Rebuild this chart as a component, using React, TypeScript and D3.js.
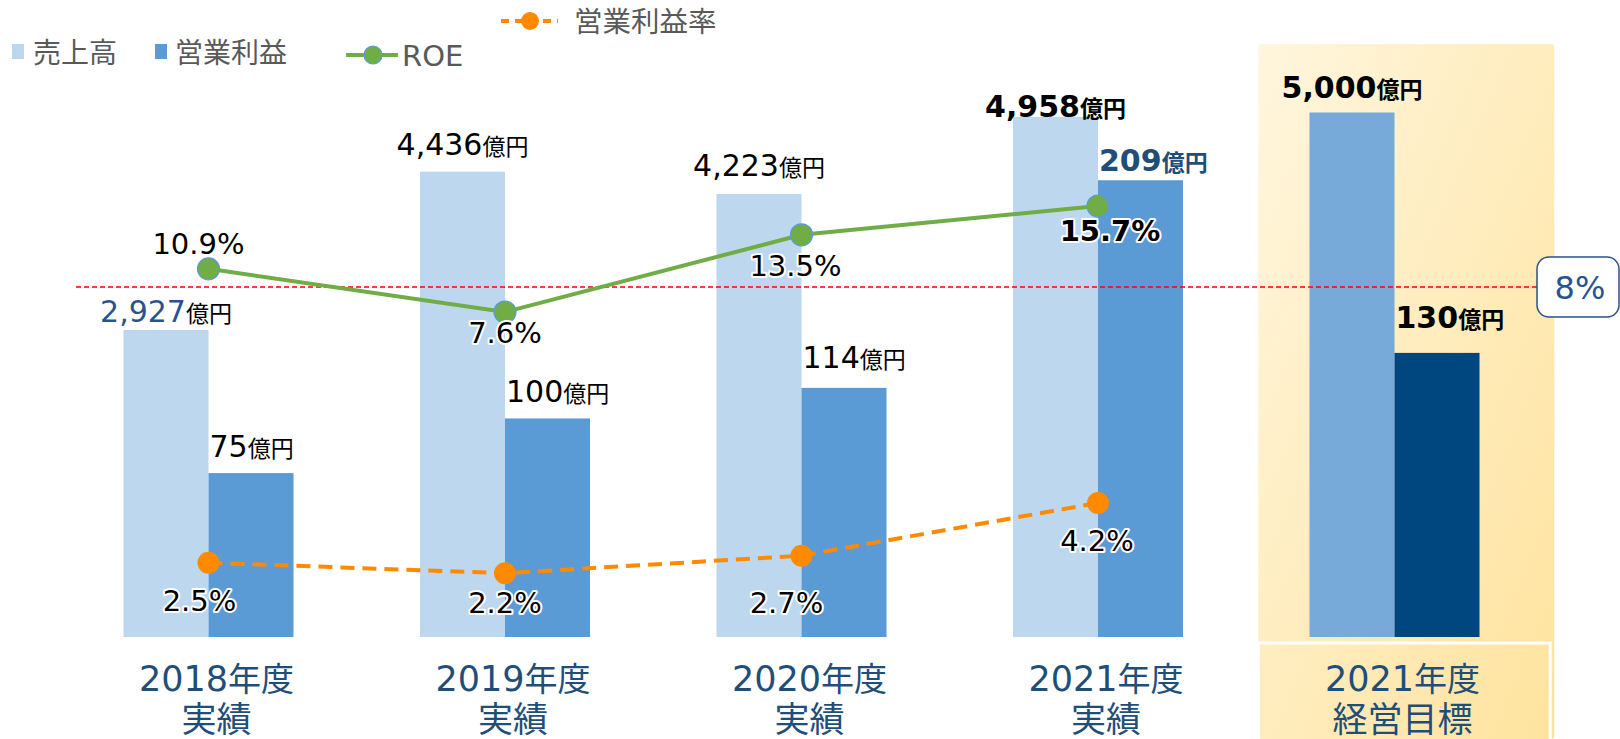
import React from 'react';
import * as d3 from 'd3';

// categories (x axis)
const years = ['2018', '2019', '2020', '2021', 'target'];
const yearLabels = ['2018', '2019', '2020', '2021', '2021'];
const yearSubLabels = ['実績', '実績', '実績', '実績', '経営目標'];

// bar series (億円)
const sales = [2927, 4436, 4223, 4958, 5000];
const opProfit = [75, 100, 114, 209, 130];

// line series (%)
const roe = [10.9, 7.6, 13.5, 15.7];
const opMargin = [2.5, 2.2, 2.7, 4.2];

const roeTarget = 8;

// label nudges (layout only)
const salesLabelDy = [-8, -17, -18, 0, -15];
const opLabelDy = [-16, -16, -20, -9, -25];
const roeLabelOffset: [number, number][] = [[-10, -15], [0, 31], [-6, 41], [12, 35]];
const marginLabelOffset: [number, number][] = [[-9, 48], [0, 40], [-15, 57], [-1, 48]];

const W = 1620;
const H = 739;
const FONT = '"DejaVu Sans", "Noto Sans CJK JP", sans-serif';

const C = {
  sales: '#bdd7ee',
  op: '#5b9bd5',
  targetSales: '#78aad9',
  targetOp: '#00467f',
  roe: '#70ad47',
  margin: '#ff8a00',
  blue: '#2a5290',
  navy: '#1f4e79',
  legendText: '#595959',
};

export default function App() {
  const x = d3.scaleBand<string>().domain(years).range([60.25, 1542.75]).padding(0);
  const barW = x.bandwidth() * 0.2867;
  const cx = (i: number) => (x(years[i]) as number) + x.bandwidth() / 2;

  const ySales = d3.scaleLinear().domain([0, 5000]).range([637, 112.5]);
  const yOp = d3.scaleLinear().domain([0, 240]).range([637, 112.5]);
  const yRoe = d3.scaleLinear().domain([0, 16]).range([411.5, 202.1]);
  const yMargin = d3.scaleLinear().domain([0, 5]).range([650.6, 474.8]);

  const roeLine = d3.line<number>().x((_, i) => cx(i)).y(d => yRoe(d));
  const marginLine = d3.line<number>().x((_, i) => cx(i)).y(d => yMargin(d));

  const fmt = d3.format(',');
  const halo = { stroke: '#fff', strokeWidth: 4, paintOrder: 'stroke' as const, strokeLinejoin: 'round' as const };

  const panelX = x('target') as number;
  const refY = 287;

  const valueLabel = (key: string, xPos: number, y: number, num: string, anchor: 'middle' | 'start', color: string, bold: boolean) => (
    <text key={key} x={xPos} y={y} textAnchor={anchor} fill={color} fontWeight={bold ? 'bold' : 'normal'} fontFamily={FONT}>
      <tspan fontSize={30}>{num}</tspan>
      <tspan fontSize={23} fill={bold ? color : '#000'}>億円</tspan>
    </text>
  );

  return (
    <svg width={W} height={H} style={{ position: 'absolute', left: 0, top: 0, background: '#fff' }} fontFamily={FONT}>
      <defs>
        <linearGradient id="panelGrad" x1="0" y1="0" x2="1" y2="1">
          <stop offset="0%" stopColor="#fff6de" />
          <stop offset="100%" stopColor="#ffe39e" />
        </linearGradient>
      </defs>

      {/* target panel */}
      <rect x={panelX + 12} y={44} width={296} height={H - 44} fill="url(#panelGrad)" rx={3} />
      <rect x={panelX + 12} y={643} width={292} height={110} fill="none" stroke="#fff" strokeWidth={3} />

      {/* bars */}
      {sales.map((v, i) => (
        <rect key={'s' + i} x={cx(i) - barW} y={ySales(v)} width={barW} height={ySales(0) - ySales(v)}
          fill={years[i] === 'target' ? C.targetSales : C.sales} />
      ))}
      {opProfit.map((v, i) => (
        <rect key={'o' + i} x={cx(i)} y={yOp(v)} width={barW} height={yOp(0) - yOp(v)}
          fill={years[i] === 'target' ? C.targetOp : C.op} />
      ))}

      {/* ROE reference line */}
      <line x1={76} x2={1537} y1={refY} y2={refY} stroke="#ff0000" strokeWidth={1.3} strokeDasharray="5 3" />
      <rect x={1537} y={257} width={82} height={60} rx={12} fill="#fff" stroke={C.blue} strokeWidth={1.5} />
      <text x={1580} y={299} textAnchor="middle" fontSize={32} fill={C.blue}>{roeTarget}%</text>

      {/* value labels */}
      {sales.map((v, i) => {
        const bold = i >= 3;
        const color = i === 0 ? C.blue : '#000';
        return valueLabel('sl' + i, cx(i) - barW / 2, ySales(v) + salesLabelDy[i], fmt(v), 'middle', color, bold);
      })}
      {opProfit.map((v, i) => {
        const bold = i >= 3;
        const color = i === 3 ? C.navy : '#000';
        return valueLabel('ol' + i, cx(i) + 1, yOp(v) + opLabelDy[i], fmt(v), 'start', color, bold);
      })}

      {/* operating margin line */}
      <path d={marginLine(opMargin) || ''} fill="none" stroke={C.margin} strokeWidth={4} strokeDasharray="14 8" />
      {opMargin.map((v, i) => (
        <circle key={'mc' + i} cx={cx(i)} cy={yMargin(v)} r={11} fill={C.margin} />
      ))}
      {opMargin.map((v, i) => (
        <text key={'mt' + i} x={cx(i) + marginLabelOffset[i][0]} y={yMargin(v) + marginLabelOffset[i][1]}
          textAnchor="middle" fontSize={29} fill="#000" {...halo}>{v.toFixed(1)}%</text>
      ))}

      {/* ROE line */}
      <path d={roeLine(roe) || ''} fill="none" stroke={C.roe} strokeWidth={4} />
      {roe.map((v, i) => (
        <circle key={'rc' + i} cx={cx(i)} cy={yRoe(v)} r={11} fill={C.roe} stroke={C.op} strokeWidth={1.2} />
      ))}
      {roe.map((v, i) => (
        <text key={'rt' + i} x={cx(i) + roeLabelOffset[i][0]} y={yRoe(v) + roeLabelOffset[i][1]}
          textAnchor="middle" fontSize={29} fill="#000" fontWeight={i === 3 ? 'bold' : 'normal'} {...halo}>{v.toFixed(1)}%</text>
      ))}

      {/* category labels */}
      {years.map((y, i) => (
        <g key={'cat' + y} fill={C.navy} textAnchor="middle">
          <text x={cx(i) + 8} y={691}>
            <tspan fontSize={35}>{yearLabels[i]}</tspan>
            <tspan fontSize={33}>年度</tspan>
          </text>
          <text x={cx(i) + 8} y={732} fontSize={35}>{yearSubLabels[i]}</text>
        </g>
      ))}

      {/* legend */}
      <g fill={C.legendText}>
        <rect x={12} y={44} width={12} height={15} fill={C.sales} />
        <text x={33} y={63} fontSize={28}>売上高</text>
        <rect x={155} y={44} width={12} height={15} fill={C.op} />
        <text x={175} y={63} fontSize={28}>営業利益</text>
        <line x1={346} x2={398} y1={55} y2={55} stroke={C.roe} strokeWidth={4} />
        <circle cx={373} cy={55} r={9} fill={C.roe} stroke={C.op} strokeWidth={1.2} />
        <text x={402} y={66} fontSize={29}>ROE</text>
        <line x1={501} x2={558} y1={21} y2={21} stroke={C.margin} strokeWidth={4} strokeDasharray="8 6" />
        <circle cx={530} cy={21} r={9} fill={C.margin} />
        <text x={574} y={32} fontSize={28.5}>営業利益率</text>
      </g>
    </svg>
  );
}
